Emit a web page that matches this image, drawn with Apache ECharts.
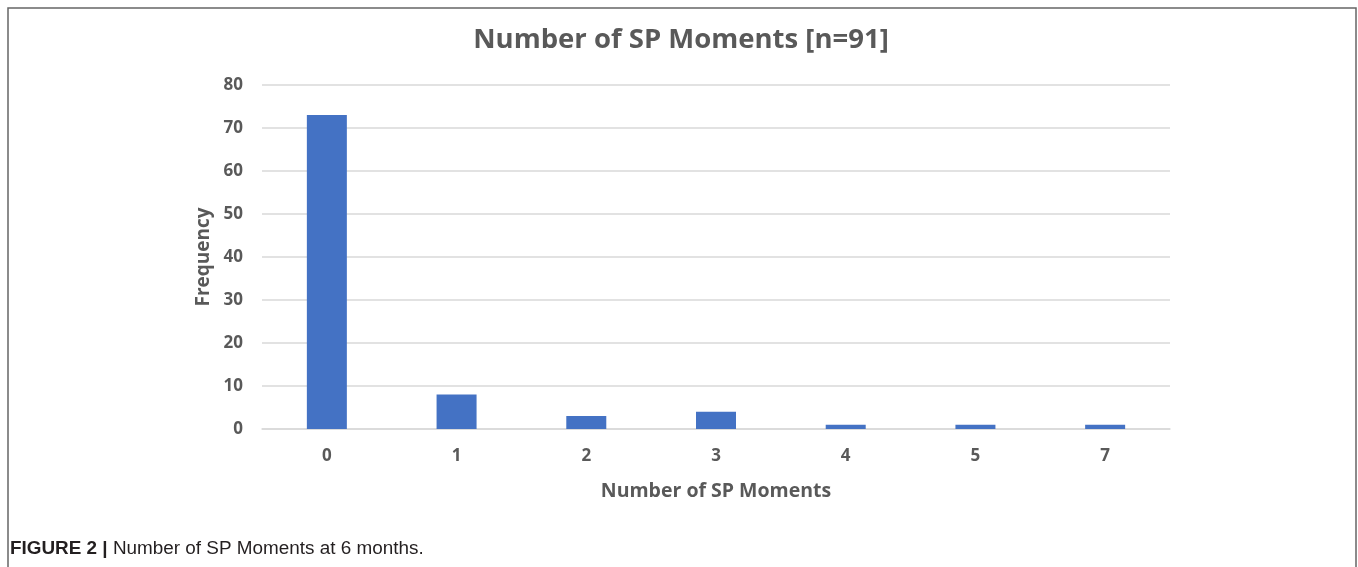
<!DOCTYPE html>
<html>
<head>
<meta charset="utf-8">
<script src="https://cdn.jsdelivr.net/npm/echarts@6/dist/echarts.min.js"></script>
<style>
html,body{margin:0;padding:0;background:#fff;}
#c{width:1358px;height:567px;}
</style>
</head>
<body>
<div id="c"></div>
<script>
const categories = ['0', '1', '2', '3', '4', '5', '7'];
const frequency = [73, 8, 3, 4, 1, 1, 1];
const yTicks = [0, 10, 20, 30, 40, 50, 60, 70, 80];
const titleText = 'Number of SP Moments [n=91]';
const xName = 'Number of SP Moments';
const yName = 'Frequency';
const captionBold = 'FIGURE 2 |';
const captionText = ' Number of SP Moments at 6 months.';

const chart = echarts.init(document.getElementById('c'), null, {renderer: 'canvas'});
const font = '"Open Sans", "Noto Sans", sans-serif';
chart.setOption({
  animation: false,
  backgroundColor: '#ffffff',
  title: {
    text: titleText,
    left: 676, top: 21, textAlign: 'center',
    textStyle: {fontFamily: font, fontWeight: 'bold', fontSize: 27.5, color: '#595959'}
  },
  grid: {left: 262, right: 188, top: 85, bottom: 138},
  xAxis: {
    type: 'category',
    data: categories,
    name: xName,
    nameLocation: 'middle',
    nameGap: 52,
    nameTextStyle: {fontFamily: font, fontWeight: 'bold', fontSize: 19.5, color: '#595959'},
    axisLine: {lineStyle: {color: '#d9d9d9', width: 1.5}},
    axisTick: {show: false},
    axisLabel: {fontFamily: font, fontWeight: 'bold', fontSize: 17, color: '#595959', margin: 19}
  },
  yAxis: {
    type: 'value',
    min: yTicks[0], max: yTicks[yTicks.length - 1], interval: 10,
    name: yName,
    nameLocation: 'middle',
    nameGap: 49,
    nameTextStyle: {fontFamily: font, fontWeight: 'bold', fontSize: 19, color: '#595959'},
    axisLine: {show: false},
    axisTick: {show: false},
    splitLine: {lineStyle: {color: '#d9d9d9', width: 1.5}},
    axisLabel: {fontFamily: font, fontWeight: 'bold', fontSize: 17, color: '#595959', margin: 19}
  },
  series: [{
    type: 'bar',
    data: frequency,
    barWidth: 40,
    itemStyle: {color: '#4472c4'}
  }],
  graphic: [
    {
      type: 'rect', silent: true,
      shape: {x: 8, y: 8, width: 1348, height: 600},
      style: {fill: 'none', stroke: '#666666', lineWidth: 1.5}
    },
    {
      type: 'text', left: 10, top: 539,
      style: {
        text: '{b|' + captionBold + '}{n|' + captionText + '}',
        rich: {
          b: {fontFamily: 'Liberation Sans, Arial, sans-serif', fontWeight: 'bold', fontSize: 18.9, fill: '#231f20'},
          n: {fontFamily: 'Liberation Sans, Arial, sans-serif', fontSize: 18.9, fill: '#231f20'}
        }
      }
    }
  ]
});
</script>
</body>
</html>
